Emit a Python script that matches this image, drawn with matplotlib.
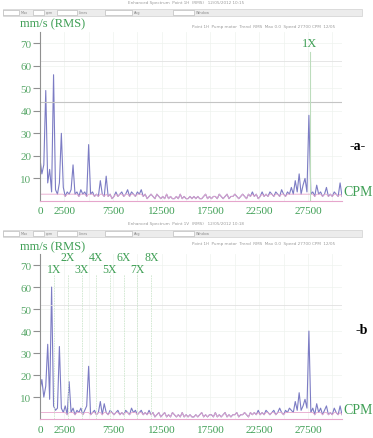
import numpy as np
import matplotlib
matplotlib.use('Agg')
from matplotlib import pyplot as plt
from matplotlib.patches import Rectangle

plt.rcParams['font.family'] = ['Liberation Serif', 'DejaVu Serif']

# spectrum bins, 200 CPM apart (0 .. 31000)
bin_cpm = 200
top_amp = [
    19, 12, 16, 49, 8, 14, 4, 56, 5, 3,
    8, 30, 6, 2, 4, 3, 5, 16, 3, 4,
    2, 5, 3, 4, 2, 25, 3, 4, 2, 3,
    2, 9, 3, 2, 11, 2, 3, 1, 2, 4,
    2, 3, 4, 2, 3, 5, 2, 4, 3, 2,
    4, 3, 5, 2, 3, 1, 2, 3, 2, 1,
    3, 2, 1, 2, 1, 3, 1, 2, 1, 1,
    2, 1, 3, 1, 2, 1, 1, 2, 1, 2,
    1, 2, 1, 1, 2, 3, 1, 2, 1, 2,
    2, 1, 3, 2, 1, 2, 3, 1, 2, 2,
    3, 2, 1, 2, 3, 2, 1, 3, 2, 4,
    2, 3, 1, 2, 4, 2, 3, 2, 4, 3,
    2, 4, 3, 2, 5, 3, 2, 4, 3, 6,
    3, 9, 4, 12, 3, 7, 10, 4, 38, 3,
    4, 2, 7, 3, 4, 2, 3, 6, 2, 3,
    2, 4, 3, 2, 8, 2,
]
bottom_amp = [
    13, 18, 10, 15, 34, 9, 60, 6, 4, 5,
    33, 5, 3, 6, 2, 17, 3, 5, 2, 4,
    3, 5, 2, 4, 6, 24, 2, 3, 4, 2,
    3, 8, 2, 7, 3, 2, 4, 3, 2, 3,
    4, 2, 3, 2, 4, 3, 2, 5, 3, 4,
    2, 3, 4, 2, 3, 2, 4, 2, 3, 1,
    2, 3, 1, 2, 3, 1, 2, 1, 3, 2,
    1, 2, 1, 3, 1, 2, 1, 2, 1, 1,
    2, 1, 2, 3, 1, 2, 1, 2, 2, 1,
    3, 1, 2, 1, 2, 3, 1, 2, 1, 2,
    2, 3, 1, 2, 2, 3, 2, 1, 3, 2,
    3, 2, 4, 2, 3, 2, 4, 3, 2, 3,
    4, 2, 3, 5, 3, 2, 4, 3, 5, 4,
    3, 8, 4, 12, 4, 6, 9, 5, 40, 3,
    5, 2, 7, 3, 5, 2, 4, 6, 2, 3,
    2, 5, 3, 2, 6, 2,
]
xtick_vals = [0, 2500, 7500, 12500, 17500, 22500, 27500]
ytick_vals = [10, 20, 30, 40, 50, 60, 70]
top_1x_cpm = 27700
harm_1x_cpm = 1430
harm_labels = ['1X', '2X', '3X', '4X', '5X', '6X', '7X', '8X']

green = '#3f9f55'
tgreen = '#5aa86a'
spec = '#7c7cc4'
pink = '#e6a6cc'

fig = plt.figure(figsize=(3.73, 4.39), dpi=100)


def toolbar(ytop, title):
    # grey header strip with the little input boxes
    y0 = 1 - (ytop + 7) / 439
    fig.text(0.5, 1 - (ytop - 7) / 439, title, ha='center', va='center',
             fontsize=3, color='#9a9a9a', family='DejaVu Sans')
    fig.patches.append(Rectangle((3 / 373, y0), 359 / 373, 7 / 439,
                                 transform=fig.transFigure, fc='#ececec',
                                 ec='#d0d0d0', lw=0.5))
    for bx, bw, lab in [(3, 16, 'Max'), (33, 11, 'rpm'), (57, 20, 'Lines'),
                        (105, 27, 'Avg'), (173, 21, 'Window')]:
        fig.patches.append(Rectangle((bx / 373, y0 + 1.2 / 439), bw / 373, 4.6 / 439,
                                     transform=fig.transFigure, fc='white',
                                     ec='#b0b0b0', lw=0.4))
        fig.text((bx + bw + 2) / 373, y0 + 3.5 / 439, lab, fontsize=2.5,
                 color='#888888', va='center', family='DejaVu Sans')


def panel(rect, amp, ypx_label, ypx_note):
    ax = fig.add_axes(rect)
    f = np.arange(len(amp)) * bin_cpm
    a = np.array(amp, dtype=float)
    ax.plot(f, a, color=spec, lw=0.8)
    ax.plot(f, np.minimum(a, 3), color=pink, lw=0.6)
    ax.set_xlim(0, 31000)
    ax.set_ylim(0, 75)
    ax.set_yticks(ytick_vals)
    ax.set_xticks(xtick_vals)
    ax.tick_params(axis='y', length=5, width=0.8, color='#909090', labelcolor=tgreen,
                   labelsize=8, pad=1)
    ax.tick_params(axis='x', length=0, labelcolor=green, labelsize=8, pad=4)
    for s in ['top', 'right']:
        ax.spines[s].set_visible(False)
    ax.spines['left'].set_color('#909090')
    ax.spines['bottom'].set_color(pink)
    ax.set_xticks(np.arange(0, 31000, 2500), minor=True)
    ax.grid(True, which='both', color='#eef3ee', lw=0.5)
    ax.tick_params(axis='x', which='minor', length=0)
    ax.set_axisbelow(True)
    fig.text(20 / 373, 1 - ypx_label / 439, 'mm/s (RMS)', color=green, fontsize=9,
             va='center')
    fig.text(192 / 373, 1 - ypx_note / 439,
             'Point 1H  Pump motor  Trend  RMS  Max 0.0  Speed 27700 CPM  12/05',
             color='#9a9a9a', fontsize=3, va='center', family='DejaVu Sans')
    ax.text(1.003, 0.02, 'CPM', transform=ax.transAxes, color=green, fontsize=10,
            va='bottom', ha='left', clip_on=False)
    return ax


toolbar(10, 'Enhanced Spectrum  Point 1H  (RMS)   12/05/2012 10:15')
ax1 = panel([0.107, 0.540, 0.810, 0.385], top_amp, 24, 27)
ax1.axhline(44, color='#c4c4c4', lw=0.8)
ax1.axhline(62, color='#e2e2e2', lw=0.6)
ax1.plot([top_1x_cpm, top_1x_cpm], [0, 66], color='#bcdcbc', lw=0.8)
ax1.text(top_1x_cpm, 70, '1X', color=green, fontsize=9, ha='center', va='center')
fig.text(350 / 373, 1 - 147 / 439, '-a-', fontsize=10, fontweight='bold', va='center')

toolbar(231, 'Enhanced Spectrum  Point 1V  (RMS)   12/05/2012 10:18')
ax2 = panel([0.107, 0.043, 0.810, 0.376], bottom_amp, 247, 244)
ax2.axhline(52, color='#e0e0e0', lw=0.6)
for n, lab in enumerate(harm_labels, start=1):
    x = n * harm_1x_cpm
    ax2.plot([x, x], [0, 66], color='#cfe6cf', lw=0.6, ls=(0, (2, 1)))
    ax2.text(x, 68 if n % 2 else 73.5, lab, color=green, fontsize=8.5,
             ha='center', va='center', clip_on=False)
fig.text(355 / 373, 1 - 330 / 439, '-b', fontsize=10, fontweight='bold', va='center')

fig.savefig('out.png', dpi=100)
